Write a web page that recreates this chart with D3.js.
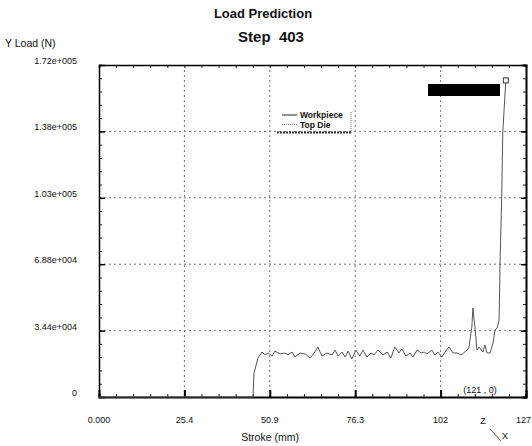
<!DOCTYPE html>
<meta charset="utf-8">
<style>
body { margin: 0; background: #fff; }
text { font-family: "Liberation Sans", Arial, sans-serif; fill: #111; }
.tick-label { font-size: 9px; }
.grid { stroke: #777; stroke-width: 1; stroke-dasharray: 2,3; }
</style>
<svg width="532" height="446"></svg>
<script src="https://d3js.org/d3.v7.min.js"></script>
<script>
// stroke (mm) and Y load (N)
var stroke = [0, 45.8, 46.1, 47.3, 48.5, 49.4, 50.3, 51.5, 52.3, 53.8, 55.3, 56.2, 57.4, 58.3, 59.8, 61.3,
  62.8, 64.2, 65.1, 66.3, 67.8, 69.3, 70.2, 71.1, 72.3, 73.2, 74.1, 75.2, 76.4, 77.6, 78.5, 79.7,
  80.9, 81.8, 83.0, 84.5, 85.7, 86.8, 88.0, 89.2, 90.1, 91.3, 92.5, 93.4, 94.6, 95.8, 96.7, 97.5,
  99.0, 99.9, 100.8, 102.0, 102.9, 104.1, 105.3, 106.5, 107.7, 108.8, 110.0, 110.9, 111.2, 111.8,
  112.4, 113.0, 114.2, 114.8, 115.4, 116.3, 117.2, 117.8, 118.4, 119.0, 119.3, 119.8, 120.1, 121.0];
var load = [0, 0, 12400, 20200, 23300, 21800, 22800, 21200, 23800, 22300, 22800, 21800, 23300, 20700, 22800, 22300,
  20200, 23300, 25900, 21200, 22800, 21800, 24300, 21200, 23300, 20700, 23800, 19700, 24300, 21200, 24300, 20700,
  22800, 21800, 24300, 21800, 23300, 20200, 25900, 22800, 24900, 21200, 22800, 20700, 24300, 22800, 23300, 22300,
  24300, 21800, 23300, 20700, 23300, 25900, 22800, 22800, 21800, 23300, 25400, 36300, 46100, 36300,
  24300, 25900, 23300, 26900, 22800, 22800, 28000, 34700, 35700, 39900, 71000, 105700, 137300, 164000];

var xTicks = [0, 25.4, 50.8, 76.2, 101.6, 127];
var xTickLabels = ["0.000", "25.4", "50.9", "76.3", "102", "127"];
var yTicks = [0, 34400, 68800, 103200, 137600, 172000];
var yTickLabels = ["0", "3.44e+004", "6.88e+004", "1.03e+005", "1.38e+005", "1.72e+005"];
var seriesNames = ["Workpiece", "Top Die"];

var svg = d3.select("svg");
var pLeft = 99, pRight = 526, pTop = 65, pBottom = 397;

var x = d3.scaleLinear().domain([0, 127]).range([pLeft, pRight]);
var y = d3.scaleLinear().domain([0, 172000]).range([pBottom, pTop]);

// titles
svg.append("text").attr("x", 263).attr("y", 18).attr("text-anchor", "middle")
  .style("font-size", "13px").style("font-weight", "bold").text("Load Prediction");
svg.append("text").attr("x", 271).attr("y", 42).attr("text-anchor", "middle")
  .style("font-size", "15px").style("font-weight", "bold").style("white-space", "pre").text("Step  403");
svg.append("text").attr("x", 5).attr("y", 47).style("font-size", "10.5px").text("Y Load (N)");
svg.append("text").attr("x", 270).attr("y", 441).attr("text-anchor", "middle")
  .style("font-size", "10.5px").text("Stroke (mm)");

// grid
svg.append("g").selectAll("line").data(xTicks.slice(1, -1)).enter().append("line")
  .attr("class", "grid").attr("x1", x).attr("x2", x).attr("y1", pTop).attr("y2", pBottom);
svg.append("g").selectAll("line").data(yTicks.slice(1, -1)).enter().append("line")
  .attr("class", "grid").attr("y1", y).attr("y2", y).attr("x1", pLeft).attr("x2", pRight);

// axes, ticks pointing inward
var xMinor = d3.range(0, 127.01, 127 / 25);
var yMinor = d3.range(0, 172001, 6880);
var bottomAxis = d3.axisTop(x).tickValues(xMinor).tickSize(3).tickFormat("");
var topAxis = d3.axisBottom(x).tickValues(xMinor).tickSize(3).tickFormat("");
var leftAxis = d3.axisRight(y).tickValues(yMinor).tickSize(3).tickFormat("");
var rightAxis = d3.axisLeft(y).tickValues(yMinor).tickSize(3).tickFormat("");

function styleAxis(g, w) {
  g.select(".domain").attr("stroke", "#000").attr("stroke-width", w);
  g.selectAll(".tick line").attr("stroke", "#222");
}
svg.append("g").attr("transform", "translate(0," + pBottom + ")").call(bottomAxis).call(styleAxis, 2);
svg.append("g").attr("transform", "translate(0," + pTop + ")").call(topAxis).call(styleAxis, 1.5);
svg.append("g").attr("transform", "translate(" + pLeft + ",0)").call(leftAxis).call(styleAxis, 1.5);
svg.append("g").attr("transform", "translate(" + pRight + ",0)").call(rightAxis).call(styleAxis, 2);

// major ticks
svg.append("g").attr("transform", "translate(0," + pBottom + ")")
  .call(d3.axisTop(x).tickValues(xTicks).tickSize(7).tickFormat(""))
  .call(function(g) { g.select(".domain").remove(); g.selectAll(".tick line").attr("stroke-width", 2).attr("stroke", "#000"); });
svg.append("g").attr("transform", "translate(" + pLeft + ",0)")
  .call(d3.axisRight(y).tickValues(yTicks).tickSize(6).tickFormat(""))
  .call(function(g) { g.select(".domain").remove(); g.selectAll(".tick line").attr("stroke-width", 1.5).attr("stroke", "#000"); });
svg.append("g").attr("transform", "translate(" + pRight + ",0)")
  .call(d3.axisLeft(y).tickValues(yTicks).tickSize(5).tickFormat(""))
  .call(function(g) { g.select(".domain").remove(); g.selectAll(".tick line").attr("stroke-width", 1.5).attr("stroke", "#000"); });

// tick labels (last one kept inside the page edge)
svg.append("g").selectAll("text").data(xTicks).enter().append("text")
  .attr("class", "tick-label")
  .attr("x", function(d, i) { return i === xTicks.length - 1 ? 531 : x(d); })
  .attr("y", 423)
  .attr("text-anchor", function(d, i) { return i === xTicks.length - 1 ? "end" : "middle"; })
  .text(function(d, i) { return xTickLabels[i]; });
svg.append("g").selectAll("text").data(yTicks).enter().append("text")
  .attr("class", "tick-label").attr("x", 77).attr("y", function(d) { return y(d) - 1; })
  .attr("text-anchor", "end")
  .text(function(d, i) { return yTickLabels[i]; });

// load curve
var pts = stroke.map(function(s, i) { return [s, load[i]]; });
var line = d3.line().x(function(d) { return x(d[0]); }).y(function(d) { return y(d[1]); });
svg.append("path").datum(pts).attr("d", line)
  .attr("fill", "none").attr("stroke", "#555").attr("stroke-width", 1);
var last = pts[pts.length - 1];
svg.append("rect").attr("x", x(last[0]) - 2.5).attr("y", y(last[1]) - 2.5)
  .attr("width", 5).attr("height", 5).attr("fill", "#fff").attr("stroke", "#333");

// redaction box
svg.append("rect").attr("x", 428).attr("y", 84).attr("width", 72).attr("height", 12).attr("fill", "#000");

// legend
var legend = svg.append("g");
legend.selectAll("line.key").data(seriesNames).enter().append("line")
  .attr("x1", 282).attr("x2", 297)
  .attr("y1", function(d, i) { return 115 + i * 9.5; }).attr("y2", function(d, i) { return 115 + i * 9.5; })
  .attr("stroke", function(d, i) { return i ? "#777" : "#222"; })
  .attr("stroke-dasharray", function(d, i) { return i ? "1,1" : null; });
legend.selectAll("text").data(seriesNames).enter().append("text")
  .attr("x", 300).attr("y", function(d, i) { return 118 + i * 9.5; })
  .style("font-size", "8.5px").style("font-weight", "bold").text(function(d) { return d; });
legend.append("line").attr("x1", 277).attr("x2", 351).attr("y1", 132.5).attr("y2", 132.5)
  .attr("stroke", "#333").attr("stroke-width", 2).attr("stroke-dasharray", "2,1");
legend.append("line").attr("x1", 351).attr("x2", 351).attr("y1", 112).attr("y2", 133)
  .attr("stroke", "#777").attr("stroke-dasharray", "1,1");

// end point readout and view triad
svg.append("text").attr("class", "tick-label").attr("x", 480).attr("y", 393).attr("text-anchor", "middle")
  .style("white-space", "pre").text("(121 , 0)");
svg.append("text").attr("class", "tick-label").attr("x", 483).attr("y", 424).attr("text-anchor", "middle").text("Z");
svg.append("text").attr("class", "tick-label").attr("x", 505).attr("y", 439).attr("text-anchor", "middle").text("X");
svg.append("line").attr("x1", 490).attr("y1", 429).attr("x2", 501).attr("y2", 441).attr("stroke", "#555");
</script>
